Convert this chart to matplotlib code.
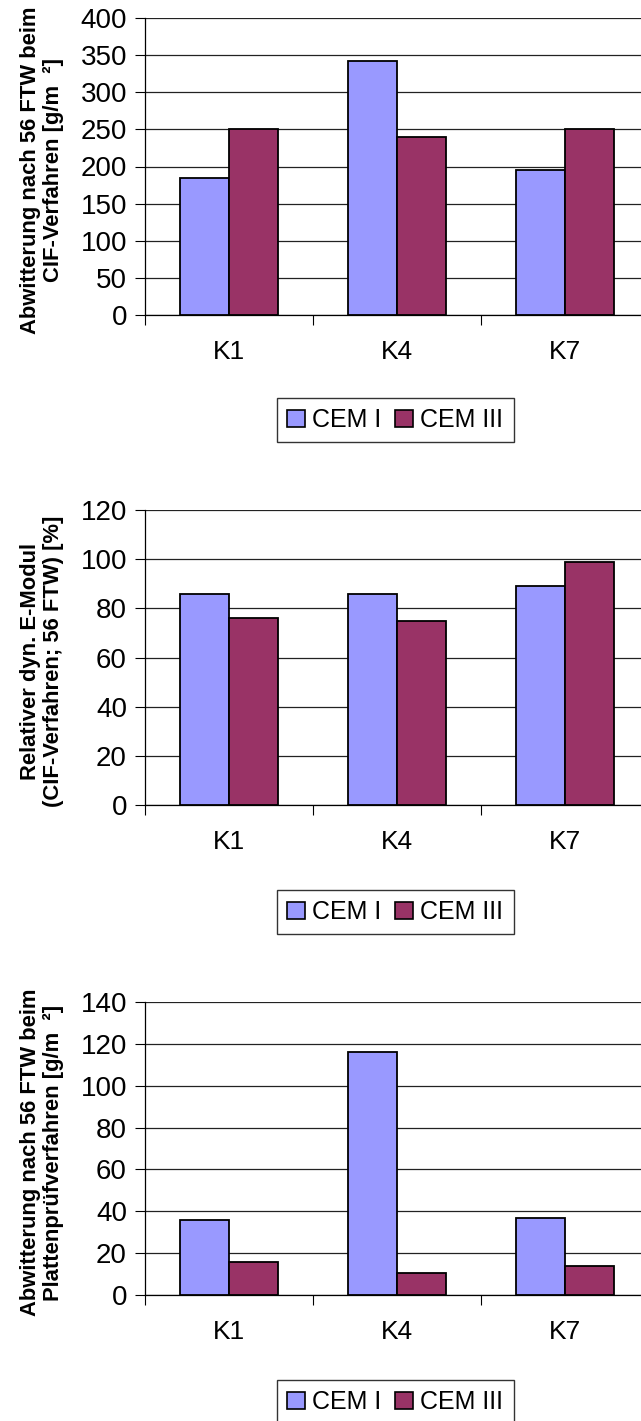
import matplotlib
matplotlib.use("Agg")
import matplotlib.pyplot as plt
from matplotlib.patches import Patch
import numpy as np

plt.rcParams['font.family'] = ['Liberation Sans', 'DejaVu Sans']

# data
categories = ['K1', 'K4', 'K7']
series_names = ['CEM I', 'CEM III']
cif_abwitterung_cem1 = [185, 342, 195]
cif_abwitterung_cem3 = [250, 240, 250]
emodul_cem1 = [86, 86, 89]
emodul_cem3 = [76, 75, 99]
platten_cem1 = [36, 116, 37]
platten_cem3 = [16, 10.5, 14]

ylabels = ['Abwitterung nach 56 FTW beim\nCIF-Verfahren [g/m  ²]',
           'Relativer dyn. E-Modul\n(CIF-Verfahren; 56 FTW) [%]',
           'Abwitterung nach 56 FTW beim\nPlattenprüfverfahren [g/m  ²]']
ylims = [(0, 400, 50), (0, 120, 20), (0, 140, 20)]

col1 = '#9999FF'
col3 = '#993366'

W, H = 641, 1421
fig = plt.figure(figsize=(W / 100, H / 100), dpi=100)

# axes boxes in pixels: (top, bottom)
boxes = [(18, 315), (510, 805), (1002, 1295)]
legend_y = [420, 912, 1402]
left, right = 145, 649

data = [(cif_abwitterung_cem1, cif_abwitterung_cem3),
        (emodul_cem1, emodul_cem3),
        (platten_cem1, platten_cem3)]

x = np.arange(len(categories))
bw = 0.29

for i, ((top, bot), (s1, s3)) in enumerate(zip(boxes, data)):
    ax = fig.add_axes([left / W, 1 - bot / H, (right - left) / W, (bot - top) / H])
    ax.bar(x - bw / 2, s1, bw, color=col1, edgecolor='black', linewidth=1.3, zorder=3)
    ax.bar(x + bw / 2, s3, bw, color=col3, edgecolor='black', linewidth=1.3, zorder=3)

    lo, hi, step = ylims[i]
    ax.set_ylim(lo, hi)
    ax.set_yticks(np.arange(lo, hi + 1, step))
    ax.set_xlim(-0.5, 2.5)
    ax.set_xticks([-0.5, 0.5, 1.5, 2.5])
    ax.set_xticklabels([])
    ax.set_xticks(x, minor=True)
    ax.set_xticklabels(categories, minor=True)
    ax.tick_params(axis='x', which='major', length=7, width=0.8, direction='out')
    ax.tick_params(axis='x', which='minor', length=0, pad=18, labelsize=19)
    ax.tick_params(axis='y', length=7, width=0.8, pad=6, labelsize=20)

    ax.grid(axis='y', color='#222222', linewidth=0.9, zorder=0)
    ax.set_axisbelow(True)
    for sp in ['top', 'right']:
        ax.spines[sp].set_visible(False)
    for sp in ['left', 'bottom']:
        ax.spines[sp].set_linewidth(0.9)

    fig.text(42 / W, 1 - ((top + bot) / 2 + 4) / H, ylabels[i], rotation=90,
             ha='center', va='center', multialignment='center',
             fontsize=15.8, fontweight='bold', linespacing=1.1)

    handles = [Patch(facecolor=col1, edgecolor='black', linewidth=1.2),
               Patch(facecolor=col3, edgecolor='black', linewidth=1.2)]
    leg = fig.legend(handles, series_names, loc='center',
                     bbox_to_anchor=(395.5 / W, 1 - legend_y[i] / H),
                     ncol=2, fontsize=18, frameon=True, fancybox=False,
                     handlelength=0.7, handleheight=0.7, handletextpad=0.3,
                     columnspacing=0.55, borderpad=0.4, borderaxespad=0)
    leg.get_frame().set_edgecolor('black')
    leg.get_frame().set_linewidth(1.0)

fig.savefig('out.png', dpi=100)
